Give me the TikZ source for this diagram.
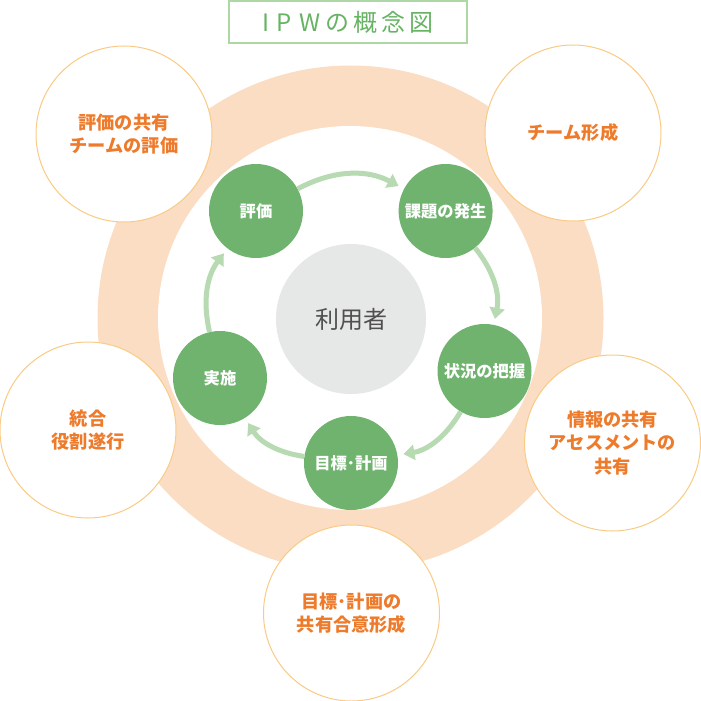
\documentclass[tikz,border=0pt]{standalone}
\usepackage{fontspec}
\setmainfont{Noto Sans CJK JP}
\usetikzlibrary{arrows.meta}
\definecolor{ringc}{HTML}{FBDDC3}
\definecolor{outerline}{HTML}{F9CB85}
\definecolor{orangetxt}{HTML}{EE7B2B}
\definecolor{greenfill}{HTML}{6FB36E}
\definecolor{arrowc}{HTML}{B7DAB2}
\definecolor{grayfill}{HTML}{E6E7E7}
\definecolor{graytxt}{HTML}{505050}
\definecolor{titlegreen}{HTML}{66B463}
\definecolor{titleline}{HTML}{ADD8A5}
\begin{document}
\begin{tikzpicture}[x=1pt,y=-1pt,
  outercirc/.style={circle, draw=outerline, line width=1pt, fill=white, minimum size=176pt, inner sep=0pt,
    text=orangetxt, font=\bfseries\fontsize{18.2}{23.5}\selectfont, align=center},
  stage/.style={circle, fill=greenfill, minimum size=94pt, inner sep=0pt, text=white,
    font=\bfseries\fontsize{16.3}{20}\selectfont},
  cyc/.style={draw=arrowc, line width=5pt, -{Triangle[width=15pt,length=11pt]}, shorten >=6pt},
  titlebox/.style={draw=titleline, line width=1.2pt, minimum width=238pt, minimum height=42pt,
    inner sep=0pt, text=titlegreen, font=\fontsize{24}{28}\selectfont}
]
\useasboundingbox (0,0) rectangle (701,701);
% ring
\fill[ringc] (350.5,318.5) circle[radius=253pt];
\fill[white] (350,318) circle[radius=192pt];
% outer circles
\node[outercirc] (share) at (124,134) {評価の共有\\チームの評価};
\node[outercirc] (team) at (573,133) {チーム形成};
\node[outercirc] (integ) at (88,430) {統合\\役割遂行};
\node[outercirc] (info) at (612.5,443) {情報の共有\\アセスメントの\\共有};
\node[outercirc] (goal) at (351.5,613) {目標･計画の\\共有合意形成};
% center
\node[circle, fill=grayfill, minimum size=150pt, inner sep=0pt, text=graytxt,
  font=\fontsize{24}{28}\selectfont] (user) at (351,319) {利用者};
% stages
\node[stage] (hyoka) at (256,211) {評価};
\node[stage] (kadai) at (445.6,211) {課題の発生};
\node[stage] (jokyo) at (484.5,371) {状況の把握};
\node[stage] (mokuhyo) at (351,463) {目標･計画};
\node[stage] (jisshi) at (220,378) {実施};
% cycle arrows
\draw[cyc] (hyoka) to[bend left=28] (kadai);
\draw[cyc] (kadai) to[bend left=25] (jokyo);
\draw[cyc] (jokyo) to[bend left=25] (mokuhyo);
\draw[cyc] (mokuhyo) to[bend left=25] (jisshi);
\draw[cyc] (jisshi) to[bend left=25] (hyoka);
% title
\node[titlebox] (title) at (348,22) {I\hspace{7pt}P\hspace{7pt}W\hspace{5pt}の\hspace{4pt}概\hspace{4pt}念\hspace{4pt}図};
\end{tikzpicture}
\end{document}
